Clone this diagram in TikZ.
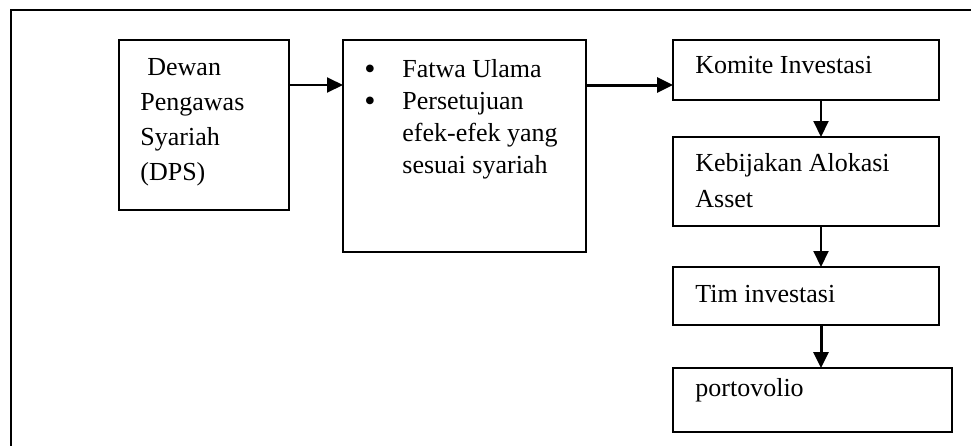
\documentclass[tikz,border=0pt]{standalone}
\usepackage{fontspec}
\setmainfont{Liberation Serif}
\usetikzlibrary{arrows.meta}

\begin{document}
\begin{tikzpicture}[
    box/.style={draw, line width=0.8pt, anchor=north west, inner sep=0pt, outer sep=0pt},
    txt/.style={anchor=base west, inner sep=0pt, font=\fontsize{13}{17.5}\selectfont},
    arr/.style={line width=1pt, -{Triangle[length=8pt,width=7.5pt]}},
    thickarr/.style={line width=1.5pt, -{Triangle[length=8pt,width=7.5pt]}}
]
    % Page size and frame (only its top and left edges show)
    \useasboundingbox (0,0) rectangle (485.5pt,-223pt);
    \draw[line width=0.8pt] (485.5pt,-5pt) -- (5.5pt,-5pt) -- (5.5pt,-223pt);

    % Left part: DPS and its tasks
    \node[box, minimum width=85pt, minimum height=85pt] (dps) at (59.5pt,-20pt) {};
    \node[txt] (dpstext) at ([xshift=10.5pt,yshift=-17.5pt]dps.north west) {\begin{tabular}[t]{@{}l@{}}\hspace*{3.5pt}Dewan\\ Pengawas\\ Syariah\\ (DPS)\end{tabular}};

    \node[box, minimum width=121.5pt, minimum height=106pt] (fatwa) at (171.5pt,-20pt) {};
    \node[txt, font=\fontsize{13}{16}\selectfont] (fatwatext) at ([xshift=10.5pt,yshift=-18.5pt]fatwa.north west) {\begin{tabular}[t]{@{}p{19pt}@{}l@{}}\raisebox{-1.2pt}{\fontsize{16}{16}\selectfont\textbullet} & Fatwa Ulama\\ \raisebox{-1.2pt}{\fontsize{16}{16}\selectfont\textbullet} & Persetujuan\\ & efek-efek yang\\ & sesuai syariah\end{tabular}};

    % Right column: investment process
    \node[box, minimum width=133pt, minimum height=30pt] (komite) at (336.5pt,-20pt) {};
    \node[txt] (komitetext) at ([xshift=11pt,yshift=-16.5pt]komite.north west) {Komite Investasi};

    \node[box, minimum width=133pt, minimum height=44.5pt] (kebijakan) at (336.5pt,-68.5pt) {};
    \node[txt, font=\fontsize{13}{18}\selectfont] (kebijakantext) at ([xshift=11pt,yshift=-17pt]kebijakan.north west) {\begin{tabular}[t]{@{}l@{}}Kebijakan Alokasi\\ Asset\end{tabular}};

    \node[box, minimum width=133pt, minimum height=29pt] (tim) at (336.5pt,-133.5pt) {};
    \node[txt] (timtext) at ([xshift=11pt,yshift=-17.5pt]tim.north west) {Tim investasi};

    \node[box, minimum width=139.5pt, minimum height=32pt] (porto) at (336.5pt,-184pt) {};
    \node[txt] (portotext) at ([xshift=11pt,yshift=-14pt]porto.north west) {portovolio};

    % Arrows between the boxes
    \draw[arr] ([yshift=-22.5pt]dps.north east) -- ([yshift=-22.5pt]fatwa.north west);
    \draw[thickarr] ([yshift=-22.5pt]fatwa.north east) -- ([yshift=-22.5pt]komite.north west);
    \draw[arr] ([xshift=74pt]komite.south west) -- ([xshift=74pt]kebijakan.north west);
    \draw[arr] ([xshift=74pt]kebijakan.south west) -- ([xshift=74pt]tim.north west);
    \draw[thickarr] ([xshift=74pt]tim.south west) -- ([xshift=74pt]porto.north west);
\end{tikzpicture}
\end{document}
